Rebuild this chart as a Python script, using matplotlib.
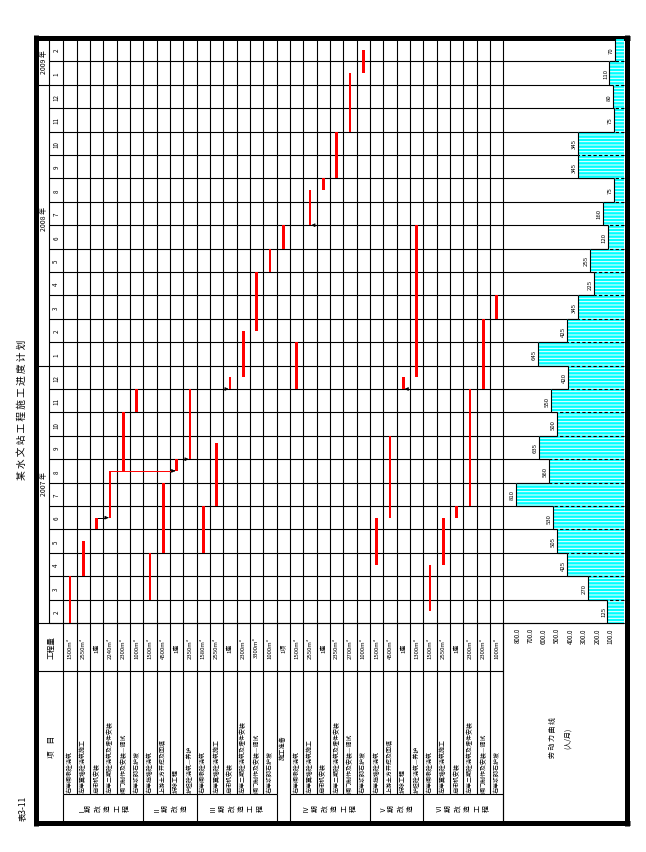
import matplotlib
matplotlib.use("Agg")
import matplotlib.pyplot as plt

plt.rcParams['font.family'] = ['Noto Sans CJK SC', 'DejaVu Sans']
plt.rcParams['hatch.linewidth'] = 0.7

# -----------------------------
# data
# -----------------------------
title = "某水文站工程施工进度计划"
table_no = "表3-11"

years = ["2007 年", "2008 年", "2009 年"]
year_start = [0, 11, 23]
year_end = [11, 23, 25]
year_label_pos = [6.0, 17.3, 24.0]
months = [2, 3, 4, 5, 6, 7, 8, 9, 10, 11, 12,
          1, 2, 3, 4, 5, 6, 7, 8, 9, 10, 11, 12,
          1, 2]

rows_a = ["右岸闸墩砼浇筑", "左岸翼墙砼浇筑施工", "启闭机安装",
          "左岸二期砼浇筑及埋件安装", "闸门制作及安装—调试", "右岸浆砌石护坡"]
rows_b = ["右岸挡墙砼浇筑", "上游土方开挖及回填", "拆除工程", "护坦砼浇筑—养护"]
task_names = rows_a + rows_b + rows_a + ["施工准备"] + rows_a + rows_b + rows_a
task_qty = ["1500m³", "2550m³", "1座", "2240m³", "2300m³", "1000m³",
            "1500m³", "4500m³", "1座", "2350m³",
            "1580m³", "2550m³", "1座", "2300m³", "3300m³", "1000m³",
            "1项",
            "1500m³", "2550m³", "1座", "2350m³", "2700m³", "1000m³",
            "1500m³", "4500m³", "1座", "1300m³",
            "1500m³", "2550m³", "1座", "2300m³", "2300m³", "1000m³"]

group_names = ["Ⅰ期改造工程", "Ⅱ期改造", "Ⅲ期改造工程", "Ⅳ期改造工程", "Ⅴ期改造", "Ⅵ期改造工程"]
group_first = [0, 6, 10, 17, 23, 27]
group_last = [6, 10, 16, 23, 27, 33]
merged_row = 16

# start / end of each task, in months counted from Feb 2007
task_start = [0, 2, 4, 4.5, 6.5, 9, 1, 3, 6.5, 7, 3, 5, 10, 10.5, 12.5, 15, 16,
              10, 17, 18.5, 19, 21, 23.5, 2.5, 4.5, 10, 10.5, 0.5, 2.5, 4.5, 5, 10, 13]
task_end = [2, 3.5, 4.5, 6.5, 9, 10, 3, 6, 7, 10, 5, 7.7, 10.5, 12.5, 15, 16, 17,
            12, 18.5, 19, 21, 23.5, 24.5, 4.5, 8, 10.5, 17, 2.5, 4.5, 5, 10, 13, 14]

# links between tasks
link_from = [2, 3, 8]
link_to = [3, 8, 9]
link_t = [4.5, 6.5, 7.0]
link_color = ["black", "red", "black"]
# arrow heads without visible line
solo_task = [12, 18, 25]
solo_t = [10, 17, 10]
solo_dir = [1, -1, -1]

# labour per month
labour = [125, 270, 425, 505, 530, 810, 560, 635, 500, 550, 420, 645, 425,
          345, 225, 255, 120, 160, 75, 345, 345, 75, 80, 110, 70]
labour_ticks = [100, 200, 300, 400, 500, 600, 700, 800]

# -----------------------------
# layout (pixels)
# -----------------------------
W, H = 646, 853
X0, CW = 63.3, 13.333
NT = len(task_names)
XG1 = X0 + NT * CW
YT, YB = 39, 624
NM = len(months)
RH = (YB - YT) / NM
XH1 = 624
Y_QTY, Y_NAME, Y_GRP, Y_END = 624, 672, 795, 822
XL, XM = 38, 49.3


def rect(x0, y0, x1, y1):
    return [x0 / W, 1 - y1 / H, (x1 - x0) / W, (y1 - y0) / H]


def ty(t):
    return YB - t * RH


def kx(k):
    return X0 + k * CW


fig = plt.figure(figsize=(W / 100, H / 100), dpi=100)

ax = fig.add_axes([0, 0, 1, 1])
ax.set_xlim(0, W)
ax.set_ylim(H, 0)
ax.axis("off")

lw = 0.8
# month grid
for i in range(NM + 1):
    ax.hlines(ty(i), XM, XH1, color="black", lw=lw)
for k in range(NT + 1):
    ax.vlines(kx(k), YT, Y_GRP, color="black", lw=lw)
for k in sorted(set(group_first + group_last + [merged_row, merged_row + 1])):
    ax.vlines(kx(k), Y_GRP, Y_END, color="black", lw=lw)
ax.vlines(XM, YT, YB, color="black", lw=lw)
for s in year_start[1:]:
    ax.hlines(ty(s), XL, XM, color="black", lw=lw)
ax.hlines(Y_QTY, XL, XH1, color="black", lw=lw)
ax.hlines(Y_NAME, XL, XG1, color="black", lw=lw)
ax.hlines(Y_GRP, X0, kx(merged_row), color="black", lw=lw)
ax.hlines(Y_GRP, kx(merged_row + 1), XG1, color="black", lw=lw)
ax.vlines(XG1, YB, Y_END, color="black", lw=lw)

# heavy frame
ax.vlines(35.8, 36, 827, color="black", lw=3.6)
ax.vlines(627, 36, 827, color="black", lw=3.6)
ax.hlines(39, 33.5, 629.5, color="black", lw=3.6)
ax.hlines(824, 33.5, 629.5, color="black", lw=3.6)

# headers
for name, p in zip(years, year_label_pos):
    ax.text((XL + XM) / 2, ty(p), name, rotation=90, ha="center", va="center", fontsize=5)
for i, m in enumerate(months):
    ax.text((XM + X0) / 2, ty(i + 0.5), str(m), rotation=90, ha="center", va="center", fontsize=4.5)
ax.text((XL + X0) / 2 + 1, (Y_QTY + Y_NAME) / 2, "工程量", rotation=90, ha="center", va="center", fontsize=5.5)
ax.text((XL + X0) / 2 + 1, (Y_NAME + Y_END) / 2, "项    目", rotation=90, ha="center", va="center", fontsize=5.5)

for k, (nm, q) in enumerate(zip(task_names, task_qty)):
    xc = kx(k) + CW / 2
    ax.text(xc, (Y_QTY + Y_NAME) / 2, q, rotation=90, ha="center", va="center", fontsize=4.3)
    if k == merged_row:
        ax.text(xc, (Y_NAME + Y_END) / 2, nm, rotation=90, ha="center", va="center", fontsize=4.5)
    else:
        ax.text(xc, Y_GRP - 2, nm, rotation=90, ha="center", va="bottom", fontsize=4.3)

# group names: vertical text in the original page, so each glyph is turned
step = 9.5
for g, a, b in zip(group_names, group_first, group_last):
    xc = (kx(a) + kx(b)) / 2
    n = len(g)
    for j, ch in enumerate(g):
        ax.text(xc + (j - (n - 1) / 2) * step, (Y_GRP + Y_END) / 2, ch,
                rotation=90, ha="center", va="center", fontsize=5)

ax.text(553, 738, "劳 动 力 曲 线", rotation=90, ha="center", va="center", fontsize=5)
ax.text(568, 738, "(人/月)", rotation=90, ha="center", va="center", fontsize=5)

ax.text(22, 410, " ".join(title), rotation=90, ha="center", va="center", fontsize=7)
ax.text(22, 808, table_no, rotation=90, ha="center", va="center", fontsize=6)

# -----------------------------
# gantt bars
# -----------------------------
ag = fig.add_axes(rect(X0, YT, XG1, YB))
ag.set_xlim(0, NT)
ag.set_ylim(0, NM)
ag.axis("off")
idx = list(range(NT))
dur = [e - s for s, e in zip(task_start, task_end)]
ag.bar([i + 0.5 for i in idx], dur, bottom=task_start, width=0.2, color="#FF0000", zorder=3)

for a, b, t, c in zip(link_from, link_to, link_t, link_color):
    xa = a + 0.5
    xb = b + 0.4
    ag.plot([xa, xb - 0.25], [t, t], color=c, lw=0.7, zorder=2)
    ag.annotate("", xy=(xb, t), xytext=(xb - 0.3, t),
                arrowprops=dict(arrowstyle="-|>", color="black", lw=0.6, mutation_scale=5))
for k, t, d in zip(solo_task, solo_t, solo_dir):
    xb = k + 0.5 - 0.1 * d
    ag.annotate("", xy=(xb, t), xytext=(xb - 0.35 * d, t),
                arrowprops=dict(arrowstyle="-|>", color="black", lw=0.6, mutation_scale=5))

# -----------------------------
# labour histogram
# -----------------------------
ah = fig.add_axes(rect(XG1, YT, XH1, YB))
ah.set_facecolor("none")
ah.set_frame_on(False)
ah.set_xlim((XH1 - XG1) * 7.5, 0)
ah.set_ylim(0, NM)
mids = [i + 0.5 for i in range(NM)]
ah.barh(mids, labour, height=1.0, color="#00FFFF", edgecolor="white",
        linewidth=0, hatch="-----", zorder=2)
for i, v in enumerate(labour):
    ah.vlines(v, i, i + 1, color="black", lw=lw, zorder=3)
    ah.text(v + 10, i + 0.5, str(v), rotation=90, ha="right", va="center", fontsize=4.3, zorder=4)
for i in range(1, NM):
    lo = min(labour[i - 1], labour[i])
    hi = max(labour[i - 1], labour[i])
    ah.hlines(i, lo, hi, color="black", lw=lw, zorder=3)
    ah.hlines(i, 0, lo, color="black", lw=lw, linestyles=(0, (3, 2)), zorder=3)
ah.hlines([0, NM], 0, labour[0], color="black", lw=lw, zorder=3)
ah.set_yticks([])
ah.set_xticks(labour_ticks)
ah.set_xticklabels([f"{t:.1f}" for t in labour_ticks], rotation=90, fontsize=4.5)
ah.tick_params(axis="x", length=0, pad=3)

fig.savefig("out.png", dpi=100)
